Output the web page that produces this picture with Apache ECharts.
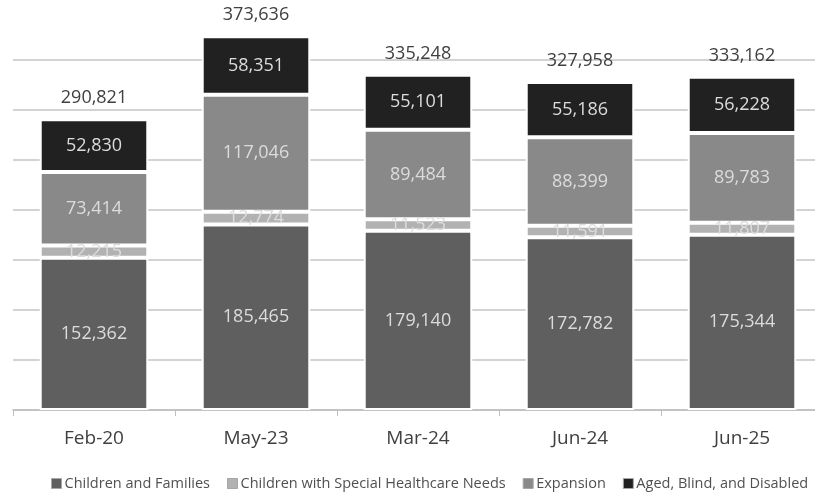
<!DOCTYPE html>
<html>
<head>
<meta charset="utf-8">
<script src="https://cdn.jsdelivr.net/npm/echarts@6/dist/echarts.min.js"></script>
<style>
  html, body { margin: 0; padding: 0; background: #fff; }
  #chart { width: 815px; height: 496px; }
</style>
</head>
<body>
<div id="chart"></div>
<script>
  var categories = ['Feb-20', 'May-23', 'Mar-24', 'Jun-24', 'Jun-25']
  var childrenFamilies = [152362, 185465, 179140, 172782, 175344]
  var specialNeeds = [12215, 12774, 11523, 11591, 11807]
  var expansion = [73414, 117046, 89484, 88399, 89783]
  var agedBlindDisabled = [52830, 58351, 55101, 55186, 56228]
  var totals = [290821, 373636, 335248, 327958, 333162]

  var font = 'Open Sans'
  var fmt = function (p) { return p.value.toLocaleString('en-US') }

  function part(name, data, color) {
    return {
      name: name,
      type: 'bar',
      stack: 'all',
      data: data,
      barCategoryGap: '33%',
      itemStyle: { color: color, borderColor: '#ffffff', borderWidth: 2 },
      label: {
        show: true,
        position: 'inside',
        formatter: fmt,
        color: '#dcdcdc',
        fontFamily: font,
        fontSize: 18
      }
    }
  }

  var chart = echarts.init(document.getElementById('chart'))
  chart.setOption({
    animation: false,
    grid: { left: 13, top: 10, width: 810, height: 400, outerBoundsMode: 'none', containLabel: false },
    legend: {
      bottom: 0,
      left: 46,
      icon: 'rect',
      itemWidth: 10,
      itemHeight: 10,
      itemGap: 17,
      data: ['Children and Families', 'Children with Special Healthcare Needs', 'Expansion', 'Aged, Blind, and Disabled'],
      itemStyle: { borderColor: '#a6a6a6', borderWidth: 1 },
      textStyle: { color: '#505050', fontFamily: font, fontSize: 14.5, padding: [0, 0, 0, -2] }
    },
    xAxis: {
      type: 'category',
      data: categories,
      axisLine: { lineStyle: { color: '#bfbfbf', width: 1.5 } },
      axisTick: { show: true, length: 6, lineStyle: { color: '#bfbfbf' } },
      axisLabel: { color: '#404040', fontFamily: font, fontSize: 19, margin: 19 }
    },
    yAxis: {
      type: 'value',
      min: 0,
      max: 400000,
      interval: 50000,
      axisLabel: { show: false },
      axisLine: { show: false },
      axisTick: { show: false },
      splitLine: { showMaxLine: false, lineStyle: { color: '#d3d3d3', width: 2 } }
    },
    series: [
      part('Children and Families', childrenFamilies, '#5f5f5f'),
      part('Children with Special Healthcare Needs', specialNeeds, '#b2b2b2'),
      part('Expansion', expansion, '#898989'),
      part('Aged, Blind, and Disabled', agedBlindDisabled, '#212121'),
      {
        name: 'Total',
        type: 'bar',
        stack: 'all',
        data: totals.map(function () { return 0 }),
        itemStyle: { color: 'transparent' },
        label: {
          show: true,
          position: 'top',
          distance: 12,
          formatter: function (p) { return totals[p.dataIndex].toLocaleString('en-US') },
          color: '#404040',
          fontFamily: font,
          fontSize: 18
        }
      }
    ]
  })
</script>
</body>
</html>
